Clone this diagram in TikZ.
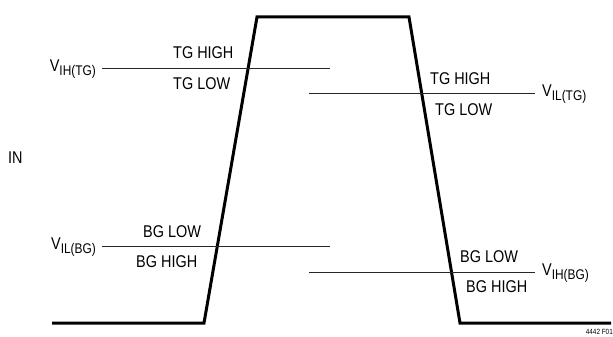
\documentclass[tikz,border=0pt]{standalone}
\usepackage{fontspec}
\setmainfont[FakeStretch=0.85]{Liberation Sans}
\newcommand{\vlab}[2]{V\raisebox{-0.4ex}{\fontsize{14}{14}\selectfont #2}}
\begin{document}
\begin{tikzpicture}[x=1pt,y=-1pt,
  lbl/.style={inner sep=0pt,font=\fontsize{17}{17}\selectfont},
  thr/.style={line width=0.9pt,black!85},
  wave/.style={line width=3pt,line join=miter}]
\useasboundingbox (0,0) rectangle (613,337);
% waveform
\coordinate (w0) at (52,323);
\coordinate (w1) at (204,323);
\coordinate (w2) at (257,17);
\coordinate (w3) at (409,17);
\coordinate (w4) at (460,323);
\coordinate (w5) at (611,323);
\draw[wave] (w0) -- (w1) -- (w2) -- (w3) -- (w4) -- (w5);
% threshold labels
\node[lbl,anchor=east] (vihtg) at (96,69) {\vlab{}{IH(TG)}};
\node[lbl,anchor=west] (viltg) at (542,94) {\vlab{}{IL(TG)}};
\node[lbl,anchor=east] (vilbg) at (96,247) {\vlab{}{IL(BG)}};
\node[lbl,anchor=west] (vihbg) at (542,273) {\vlab{}{IH(BG)}};
\coordinate (e1) at (330,68);
\coordinate (e2) at (309,93);
\coordinate (e3) at (330,246);
\coordinate (e4) at (309,272);
\draw[thr] (102,68) -- (e1);
\draw[thr] (e2) -- (535,93);
\draw[thr] (102,246) -- (e3);
\draw[thr] (e4) -- (535,272);
% region labels
\node[lbl,anchor=west] (tgh1) at (173,53) {TG HIGH};
\node[lbl,anchor=west] (tgl1) at (173,84) {TG LOW};
\node[lbl,anchor=west] (tgh2) at (430,79) {TG HIGH};
\node[lbl,anchor=west] (tgl2) at (435,110) {TG LOW};
\node[lbl,anchor=west] (bgl1) at (143,232) {BG LOW};
\node[lbl,anchor=west] (bgh1) at (136,262) {BG HIGH};
\node[lbl,anchor=west] (bgl2) at (460,257) {BG LOW};
\node[lbl,anchor=west] (bgh2) at (466,287) {BG HIGH};
\node[lbl,anchor=west] (in) at (8,158) {IN};
\node[inner sep=0pt,anchor=east,font=\fontsize{7.5}{7.5}\selectfont] (fig) at (613,332) {4442 F01};
\end{tikzpicture}
\end{document}
